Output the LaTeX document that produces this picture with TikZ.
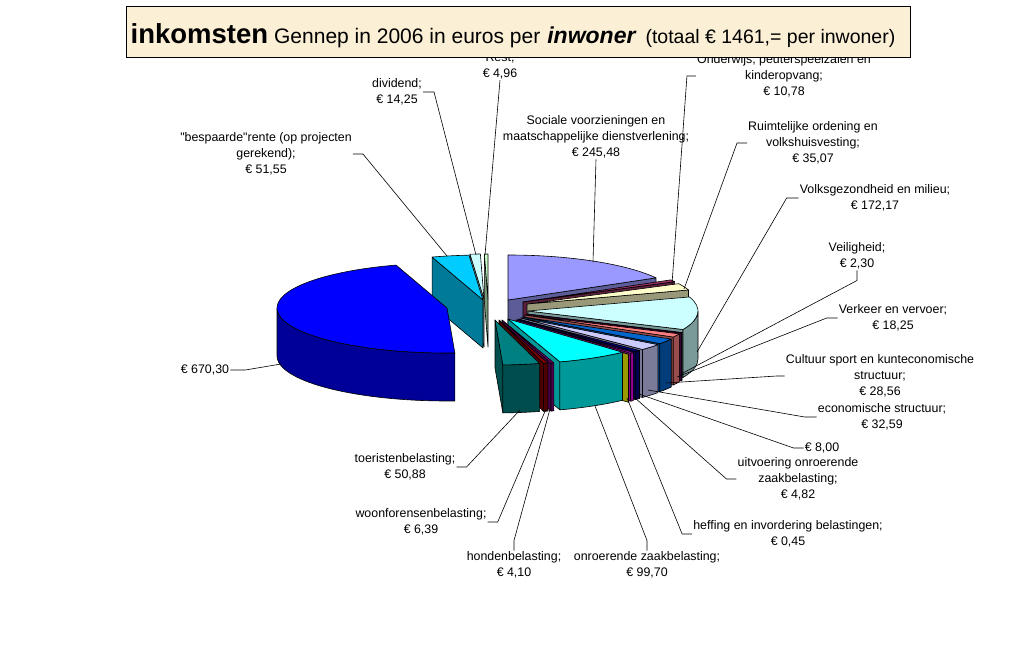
\documentclass[tikz,border=0pt]{standalone}
\usepackage{fontspec}
\setmainfont{Liberation Sans}[Ligatures=TeXOff]
\usetikzlibrary{positioning}

\definecolor{titlebg}{HTML}{FBEFD5}
\definecolor{colSoc}{HTML}{9999FF}
\definecolor{colOnd}{HTML}{993366}
\definecolor{colRuimte}{HTML}{FFFFCC}
\definecolor{colVolks}{HTML}{CCFFFF}
\definecolor{colVeilig}{HTML}{660066}
\definecolor{colVerkeer}{HTML}{FF8080}
\definecolor{colCultuur}{HTML}{0066CC}
\definecolor{colEcon}{HTML}{CCCCFF}
\definecolor{colAcht}{HTML}{000080}
\definecolor{colUitv}{HTML}{FF00FF}
\definecolor{colHeffing}{HTML}{FFFF00}
\definecolor{colOzb}{HTML}{00FFFF}
\definecolor{colHonden}{HTML}{800080}
\definecolor{colWoon}{HTML}{800000}
\definecolor{colToerist}{HTML}{008080}
\definecolor{colFonds}{HTML}{0000FF}
\definecolor{colRente}{HTML}{00CCFF}
\definecolor{colDiv}{HTML}{CCFFFF}
\definecolor{colRest}{HTML}{CCFFCC}

\newcommand{\pierx}{170}
\newcommand{\piery}{45}
\newcommand{\pieh}{48}

% one exploded slice: tip x, tip y, from, to (clockwise from 12 o'clock), colour
\newcommand{\pieslice}[5]{%
  \pgfmathsetmacro{\rimA}{max(#3,90)}%
  \pgfmathsetmacro{\rimB}{min(#4,270)}%
  \pgfmathtruncatemacro{\hasrim}{\rimB>\rimA}%
  \pgfmathtruncatemacro{\hasend}{#4<180}%
  \pgfmathtruncatemacro{\hasstart}{#3>180}%
  \pgfmathsetmacro{\rimx}{#1+\pierx*sin(\rimA)}%
  \pgfmathsetmacro{\rimy}{#2-\piery*cos(\rimA)}%
  \ifnum\hasend=1
    \filldraw[pieface, fill=#5!60!black] (#1,#2) -- ++({\pierx*sin(#4)},{-\piery*cos(#4)})
      -- ++(0,\pieh) -- ++({-\pierx*sin(#4)},{\piery*cos(#4)}) -- cycle;
  \fi
  \ifnum\hasstart=1
    \filldraw[pieface, fill=#5!60!black] (#1,#2) -- ++({\pierx*sin(#3)},{-\piery*cos(#3)})
      -- ++(0,\pieh) -- ++({-\pierx*sin(#3)},{\piery*cos(#3)}) -- cycle;
  \fi
  \ifnum\hasrim=1
    \filldraw[pieface, fill=#5!60!black] (\rimx,\rimy)
      arc[start angle=\rimA-90, end angle=\rimB-90, x radius=\pierx, y radius=\piery]
      -- ++(0,\pieh)
      arc[start angle=\rimB-90, end angle=\rimA-90, x radius=\pierx, y radius=\piery] -- cycle;
  \fi
  \filldraw[pieface, fill=#5] (#1,#2) -- ++({\pierx*sin(#3)},{-\piery*cos(#3)})
    arc[start angle=#3-90, end angle=#4-90, x radius=\pierx, y radius=\piery] -- cycle;
}

\begin{document}
\begin{tikzpicture}[x=1pt, y=-1pt,
  pieface/.style={draw=black, line width=0.6pt, line join=round},
  lbl/.style={align=center, inner sep=1pt, font=\fontsize{12.4}{16}\selectfont},
  leader/.style={line width=0.6pt}]
\useasboundingbox (0,0) rectangle (1015,650);

% Left part of the pie
\pieslice{488}{299}{358.779}{360}{colRest}
\pieslice{484}{299}{355.267}{358.779}{colDiv}
\pieslice{483}{300}{342.561}{355.267}{colRente}
\pieslice{447}{308}{177.349}{342.561}{colFonds}

% Right part of the pie
\pieslice{508}{300}{0}{60.505}{colSoc}
\pieslice{523}{302}{60.505}{63.162}{colOnd}
\pieslice{527}{304}{63.162}{71.806}{colRuimte}
\pieslice{528}{311}{71.806}{114.241}{colVolks}
\pieslice{527}{314}{114.241}{114.808}{colVeilig}
\pieslice{525}{315}{114.808}{119.306}{colVerkeer}
\pieslice{523}{317}{119.306}{126.345}{colCultuur}
\pieslice{521}{318}{126.345}{134.378}{colEcon}
\pieslice{518}{319}{134.378}{136.350}{colAcht}
\pieslice{516}{320}{136.350}{137.538}{colUitv}
\pieslice{514}{321}{137.538}{137.649}{colHeffing}
\pieslice{508}{319}{137.649}{162.222}{colOzb}
\pieslice{502}{320}{162.222}{163.233}{colHonden}
\pieslice{499}{320}{163.233}{164.808}{colWoon}
\pieslice{495}{320}{164.808}{177.349}{colToerist}

% Labels
\node[lbl] (rest) at (500,66) {Rest;\\€ 4,96};
\node[lbl] (div) at (397,92) {dividend;\\€ 14,25};
\node[lbl] (rente) at (266,154) {"bespaarde"rente (op projecten\\gerekend);\\€ 51,55};
\node[lbl] (fonds) at (205,370) {€ 670,30};
\node[lbl] (soc) at (596,137) {Sociale voorzieningen en\\maatschappelijke dienstverlening;\\€ 245,48};
\node[lbl] (ond) at (784,76) {Onderwijs, peuterspeelzalen en\\kinderopvang;\\€ 10,78};
\node[lbl] (ruimte) at (813,143) {Ruimtelijke ordening en\\volkshuisvesting;\\€ 35,07};
\node[lbl] (volks) at (875,198) {Volksgezondheid en milieu;\\€ 172,17};
\node[lbl] (veilig) at (857,256) {Veiligheid;\\€ 2,30};
\node[lbl] (verkeer) at (893,318) {Verkeer en vervoer;\\€ 18,25};
\node[lbl] (cultuur) at (880,376) {Cultuur sport en kunteconomische\\structuur;\\€ 28,56};
\node[lbl] (econ) at (882,417) {economische structuur;\\€ 32,59};
\node[lbl] (acht) at (822,448) {€ 8,00};
\node[lbl] (uitv) at (798,479) {uitvoering onroerende\\zaakbelasting;\\€ 4,82};
\node[lbl] (heffing) at (788,534) {heffing en invordering belastingen;\\€ 0,45};
\node[lbl] (ozb) at (647,565) {onroerende zaakbelasting;\\€ 99,70};
\node[lbl] (honden) at (514,565) {hondenbelasting;\\€ 4,10};
\node[lbl] (woon) at (421,522) {woonforensenbelasting;\\€ 6,39};
\node[lbl] (toerist) at (405,467) {toeristenbelasting;\\€ 50,88};

% Leader ends
\coordinate (restP) at (485,255);
\coordinate (divP) at (476,255);
\coordinate (renteP) at (447,256);
\coordinate (fondsP) at (281,364);
\coordinate (socP) at (593,262);
\coordinate (ondP) at (672,284);
\coordinate (ruimteP) at (684,289);
\coordinate (volksP) at (697,352);
\coordinate (veiligP) at (681,374);
\coordinate (verkeerP) at (677,377);
\coordinate (cultuurP) at (666,383);
\coordinate (econP) at (648,390);
\coordinate (achtP) at (639,394);
\coordinate (uitvP) at (634,397);
\coordinate (heffingP) at (627,398);
\coordinate (ozbP) at (595,406);
\coordinate (hondenP) at (550,409);
\coordinate (woonP) at (546,409);
\coordinate (toeristP) at (520,410);

% Leaders
\draw[leader] (rest.south) -- (restP);
\draw[leader] (div.east) -- ++(11,0) -- (divP);
\draw[leader] (rente.east) -- ++(10,0) -- (renteP);
\draw[leader] (fonds.east) -- ++(15,0) -- (fondsP);
\draw[leader] (soc.south) -- (socP);
\draw[leader] (ond.west) -- ++(-9,0) -- (ondP);
\draw[leader] (ruimte.west) -- ++(-10,0) -- (ruimteP);
\draw[leader] (volks.west) -- ++(-12,0) -- (volksP);
\draw[leader] (veilig.south) -- ++(0,10) -- (veiligP);
\draw[leader] (verkeer.west) -- ++(-11,0) -- (verkeerP);
\draw[leader] (cultuur.west) -- ++(-8,0) -- (cultuurP);
\draw[leader] (econ.west) -- ++(-12,0) -- (econP);
\draw[leader] (acht.west) -- ++(-10,0) -- (achtP);
\draw[leader] (uitv.west) -- ++(-10,0) -- (uitvP);
\draw[leader] (heffing.west) -- ++(-10,0) -- (heffingP);
\draw[leader] (ozb.north) -- ++(0,-10) -- (ozbP);
\draw[leader] (honden.north) -- ++(0,-10) -- (hondenP);
\draw[leader] (woon.east) -- ++(10,0) -- (woonP);
\draw[leader] (toerist.east) -- ++(10,0) -- (toeristP);

% Title
\node[draw, line width=1pt, fill=titlebg, inner sep=0pt, minimum width=784, minimum height=51] (titlebox) at (518,32.5) {};
\node[anchor=base, inner sep=0pt] (title) at (513,44) {{\fontsize{27.5}{30}\selectfont\bfseries inkomsten}\hspace{6pt}{\fontsize{21}{24}\selectfont Gennep in 2006 in euros per}\hspace{7pt}{\fontsize{23}{26}\selectfont\bfseries\itshape inwoner}\hspace{10pt}{\fontsize{19.5}{22}\selectfont (totaal € 1461,= per inwoner)}};
\end{tikzpicture}
\end{document}
